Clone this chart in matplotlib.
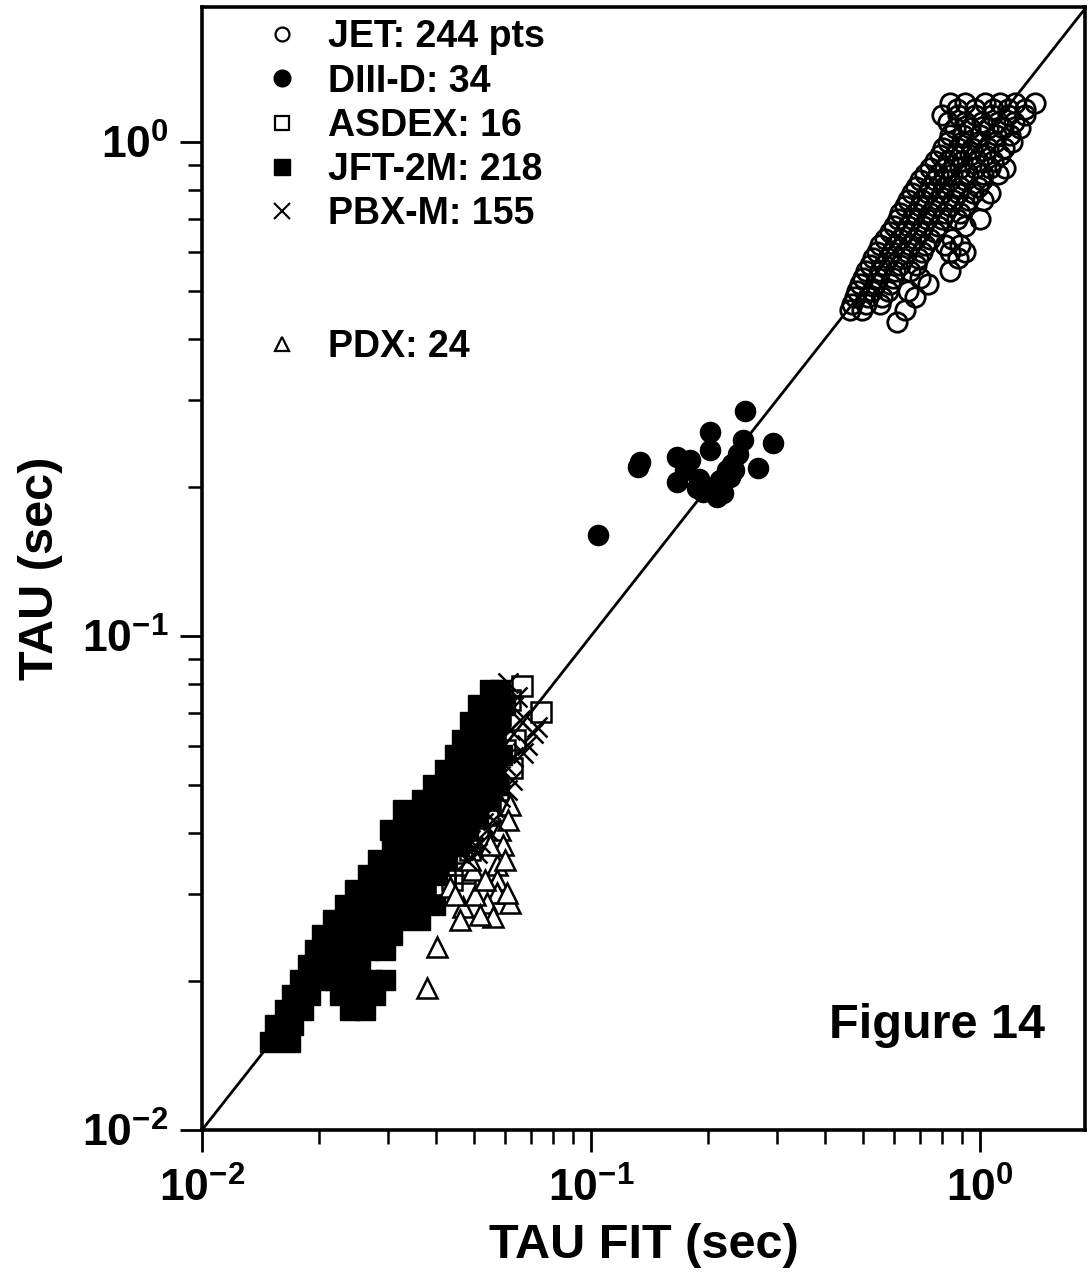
import matplotlib
matplotlib.use("Agg")
import matplotlib.pyplot as plt
from matplotlib.lines import Line2D
from matplotlib.ticker import FixedLocator, LogLocator, NullFormatter

# --- DATA ---
jet_fit = [0.837, 0.915, 1.030, 1.126, 1.230, 1.385,
           0.873, 0.971, 1.080, 1.180, 1.305,
           0.798, 0.878, 0.971, 1.074, 1.180, 1.305,
           0.828, 0.915, 1.012, 1.112, 1.223,
           0.863, 0.942, 1.049, 1.146, 1.267,
           0.837, 0.904, 1.000, 1.099, 1.194,
           0.828, 0.899, 0.988, 1.093, 1.208,
           0.803, 0.878, 0.954, 1.049, 1.153,
           0.789, 0.863, 0.942, 1.030, 1.126,
           0.766, 0.828, 0.899, 0.988, 1.080,
           0.743, 0.813, 0.888, 0.971, 1.061, 1.160,
           0.722, 0.780, 0.847, 0.931, 1.018, 1.112,
           0.701, 0.766, 0.837, 0.915, 1.012,
           0.685, 0.743, 0.808, 0.888, 0.988,
           0.669, 0.735, 0.798, 0.878, 0.959, 1.061,
           0.653, 0.709, 0.780, 0.852, 0.931, 1.018,
           0.642, 0.701, 0.766, 0.837, 0.915,
           0.623, 0.681, 0.743, 0.813, 0.888,
           0.615, 0.669, 0.730, 0.798, 0.872, 1.000,
           0.601, 0.653, 0.714, 0.780, 0.915,
           0.587, 0.642, 0.701, 0.766,
           0.570, 0.623, 0.681, 0.743, 0.847,
           0.553, 0.605, 0.661, 0.722, 0.813, 0.888,
           0.543, 0.594, 0.649, 0.709, 0.837, 0.915,
           0.531, 0.580, 0.634, 0.693, 0.878,
           0.521, 0.566, 0.623, 0.685,
           0.510, 0.553, 0.605, 0.661, 0.837,
           0.500, 0.547, 0.597, 0.701,
           0.492, 0.537, 0.587, 0.735,
           0.483, 0.528, 0.580, 0.653,
           0.478, 0.516, 0.560, 0.681,
           0.469, 0.510, 0.553,
           0.464, 0.498, 0.642,
           0.612]
jet_tau = [1.199] * 6 + [1.166] * 5 + [1.134] * 6 + [1.098] * 5 + [1.067] * 5 + \
          [1.033] * 5 + [1.000] * 5 + [0.972] * 5 + [0.941] * 5 + [0.915] * 5 + \
          [0.886] * 6 + [0.861] * 6 + [0.838] * 5 + [0.811] * 5 + [0.789] * 6 + \
          [0.763] * 6 + [0.742] * 5 + [0.718] * 5 + [0.698] * 6 + [0.676] * 5 + \
          [0.657] * 4 + [0.636] * 5 + [0.619] * 6 + [0.599] * 6 + [0.582] * 5 + \
          [0.564] * 4 + [0.548] * 5 + [0.531] * 4 + [0.516] * 4 + [0.499] * 4 + \
          [0.486] * 4 + [0.470] * 3 + [0.457] * 3 + [0.432]

diiid_fit = [0.249, 0.202, 0.202, 0.246, 0.294, 0.269, 0.134, 0.132, 0.166,
             0.180, 0.166, 0.187, 0.194, 0.211, 0.218, 0.224, 0.231, 0.239,
             0.228, 0.215, 0.104, 0.174, 0.205, 0.233, 0.190]
diiid_tau = [0.286, 0.259, 0.238, 0.249, 0.246, 0.219, 0.225, 0.220, 0.230,
             0.227, 0.205, 0.199, 0.196, 0.191, 0.195, 0.217, 0.223, 0.234,
             0.210, 0.207, 0.160, 0.217, 0.199, 0.217, 0.208]

jft_fit = [0.01496, 0.01684,
           0.01541, 0.01714,
           0.01634, 0.01818, 0.02402, 0.02624,
           0.01704, 0.01895, 0.02264, 0.02518, 0.02784,
           0.01786, 0.01987, 0.02198, 0.02430, 0.02735, 0.02954,
           0.01873, 0.02071, 0.02291, 0.02548,
           0.01952, 0.02159, 0.02402, 0.02656, 0.02954,
           0.02035, 0.02264, 0.02503, 0.02784, 0.03079,
           0.02172, 0.02402, 0.02656, 0.02954, 0.03228, 0.03634,
           0.02332, 0.02578, 0.02868, 0.03172, 0.03528, 0.03972,
           0.02474, 0.02752, 0.03043, 0.03365, 0.03744,
           0.02671, 0.02954, 0.03267, 0.03634, 0.04019,
           0.02834, 0.03134, 0.03466, 0.03856, 0.04264,
           0.03079, 0.03385, 0.03744, 0.04140, 0.04551,
           0.03043, 0.03267, 0.03592, 0.03972, 0.04392, 0.04829,
           0.03286, 0.03466, 0.03811, 0.04214, 0.04660, 0.05124,
           0.03678, 0.04043, 0.04471, 0.04944, 0.05436,
           0.03925, 0.04341, 0.04800, 0.05278, 0.05767,
           0.04214, 0.04660, 0.05124, 0.05665,
           0.04471, 0.04886, 0.05404, 0.05905,
           0.04660, 0.05124, 0.05665,
           0.04886, 0.05341, 0.05836,
           0.05124, 0.05665, 0.06011,
           0.05501, 0.05836]
jft_tau = [0.01507] * 2 + [0.01631] * 2 + [0.01750] * 4 + [0.01876] * 5 + \
          [0.02012] * 6 + [0.02158] * 4 + [0.02313] * 5 + [0.02481] * 5 + \
          [0.02661] * 6 + [0.02854] * 6 + [0.03060] * 5 + [0.03282] * 5 + \
          [0.03520] * 5 + [0.03775] * 5 + [0.04049] * 6 + \
          [0.04444] + [0.04342] * 5 + [0.04656] * 5 + [0.04994] * 5 + \
          [0.05355] * 4 + [0.05743] * 4 + [0.06160] * 3 + [0.06699] * 3 + \
          [0.07252] * 3 + [0.07777] * 2

pbxm_fit = [0.0612, 0.0645, 0.0630, 0.0726, 0.0657, 0.0709, 0.0669, 0.0630,
            0.0627, 0.0608, 0.0584, 0.0560, 0.0560, 0.0540, 0.0528, 0.0518,
            0.0509, 0.0497, 0.0480, 0.0469, 0.0489, 0.0601, 0.0584, 0.0685,
            0.0619, 0.0567, 0.0534]
pbxm_tau = [0.0804, 0.0753, 0.0718, 0.0654, 0.0676, 0.0636, 0.0580, 0.0569,
            0.0511, 0.0488, 0.0472, 0.0451, 0.0424, 0.0405, 0.0418, 0.0381,
            0.0364, 0.0374, 0.0352, 0.0369, 0.0386, 0.0549, 0.0521, 0.0602,
            0.0645, 0.0499, 0.0440]

asdex_fit = [0.0665, 0.0744, 0.0627, 0.0638, 0.0584, 0.0577, 0.0544, 0.0512,
             0.0421, 0.0455, 0.0489, 0.0601, 0.0619, 0.0550, 0.0474, 0.0439]
asdex_tau = [0.0792, 0.0702, 0.0541, 0.0616, 0.0692, 0.0488, 0.0434, 0.0390,
             0.0313, 0.0344, 0.0369, 0.0588, 0.0742, 0.0466, 0.0331, 0.0321]

pdx_fit = [0.0619, 0.0584, 0.0594, 0.0573, 0.0573, 0.0573, 0.0619, 0.0540,
           0.0560, 0.0497, 0.0434, 0.0469, 0.0461, 0.0402, 0.0379, 0.0503,
           0.0534, 0.0601, 0.0518, 0.0608, 0.0447, 0.0489, 0.0550, 0.0612]
pdx_tau = [0.0455, 0.0405, 0.0378, 0.0344, 0.0321, 0.0302, 0.0288, 0.0288,
           0.0270, 0.0336, 0.0310, 0.0283, 0.0266, 0.0235, 0.0194, 0.0299,
           0.0321, 0.0352, 0.0272, 0.0302, 0.0299, 0.0352, 0.0378, 0.0424]

legend_labels = ["JET: 244 pts", "DIII-D: 34", "ASDEX: 16", "JFT-2M: 218",
                 "PBX-M: 155", "PDX: 24"]
identity = [0.01, 2.0]
x_lim = [0.01, 1.862]
y_lim = [0.01, 1.877]
major_ticks = [0.01, 0.1, 1.0]
tick_labels = [r"$\mathbf{10^{-2}}$", r"$\mathbf{10^{-1}}$", r"$\mathbf{10^{0}}$"]

# --- STYLE ---
plt.rcParams['font.family'] = ['Liberation Sans', 'DejaVu Sans']
plt.rcParams['font.weight'] = 'bold'
plt.rcParams['mathtext.fontset'] = 'custom'
plt.rcParams['mathtext.bf'] = 'Liberation Sans:bold'
plt.rcParams['mathtext.rm'] = 'Liberation Sans:bold'

fig = plt.figure(figsize=(10.9, 12.76), dpi=100)
ax = fig.add_axes([0.18532, 0.11442, 0.81009, 0.88009])
ax.set_xscale('log')
ax.set_yscale('log')

ax.plot(identity, identity, color='black', lw=2.0, zorder=1)

ms = 14
ax.plot(jft_fit, jft_tau, 's', ms=ms, color='black', mec='black', zorder=2)
ax.plot(asdex_fit, asdex_tau, 's', ms=ms, mfc='none', mec='black', mew=1.8, zorder=3)
ax.plot(pdx_fit, pdx_tau, '^', ms=ms, mfc='white', mec='black', mew=1.8, zorder=4)
ax.plot(pbxm_fit, pbxm_tau, 'x', ms=ms, color='black', mew=1.8, zorder=5)
ax.plot(diiid_fit, diiid_tau, 'o', ms=14.5, color='black', zorder=3)
ax.plot(jet_fit, jet_tau, 'o', ms=14, mfc='none', mec='black', mew=2.0, zorder=3)

ax.set_xlim(x_lim)
ax.set_ylim(y_lim)

for axis in (ax.xaxis, ax.yaxis):
    axis.set_major_locator(FixedLocator(major_ticks))
    axis.set_minor_locator(LogLocator(base=10, subs=range(2, 10)))
    axis.set_minor_formatter(NullFormatter())
ax.set_xticklabels(tick_labels)
ax.set_yticklabels(tick_labels)

ax.tick_params(which='major', direction='out', length=16, width=2.0,
               labelsize=32, top=False, right=False)
ax.tick_params(which='minor', direction='out', length=10, width=1.8,
               top=False, right=False)
ax.tick_params(axis='x', which='major', pad=11)
ax.tick_params(axis='y', which='major', pad=8)
for side in ax.spines:
    ax.spines[side].set_linewidth(2.6)

ax.set_xlabel("TAU FIT (sec)", fontsize=35, fontweight='bold', labelpad=9)
ax.set_ylabel("TAU (sec)", fontsize=35, fontweight='bold', labelpad=14)

# legend
handles = [
    Line2D([], [], ls='none', marker='o', ms=10, mfc='white', mec='black', mew=1.6),
    Line2D([], [], ls='none', marker='o', ms=12, color='black'),
    Line2D([], [], ls='none', marker='s', ms=10, mfc='white', mec='black', mew=1.6),
    Line2D([], [], ls='none', marker='s', ms=11, color='black'),
    Line2D([], [], ls='none', marker='x', ms=11, color='black', mew=1.5),
    Line2D([], [], ls='none'),
    Line2D([], [], ls='none'),
    Line2D([], [], ls='none', marker='^', ms=10, mfc='white', mec='black', mew=1.6),
]
labels = legend_labels[:5] + [" ", " "] + legend_labels[5:]
ax.legend(handles, labels, loc='upper left', bbox_to_anchor=(0.0697, 0.989),
          frameon=False, handlelength=1.0, handletextpad=0.72,
          labelspacing=0.22, borderpad=0, borderaxespad=0,
          prop={'weight': 'bold', 'size': 27})

ax.text(0.955, 0.0935, "Figure 14", transform=ax.transAxes, ha='right',
        va='center', fontsize=35, fontweight='bold')

fig.savefig('out.png', dpi=100)
